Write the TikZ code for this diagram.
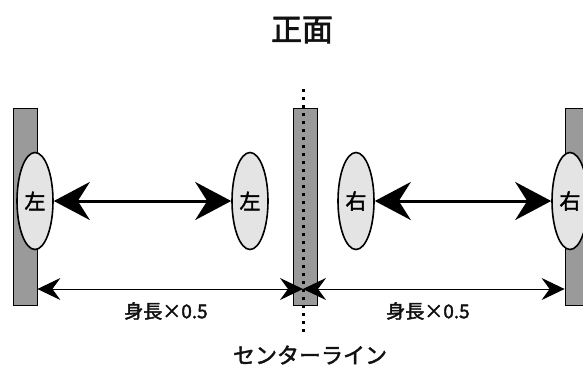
\documentclass[tikz,border=0pt]{standalone}
\usepackage{fontspec}
\newfontfamily\jpfont[BoldFont={Noto Sans CJK JP},BoldFeatures={FakeBold=2}]{Noto Sans CJK JP}
\usetikzlibrary{shapes.geometric,arrows.meta,positioning}
\definecolor{wallgray}{HTML}{9A9A9A}
\definecolor{footgray}{HTML}{E4E4E4}
\definecolor{darktext}{HTML}{111111}

\tikzset{
  wall/.style={draw=black, fill=wallgray, line width=0.8pt, minimum width=24pt, minimum height=197pt, inner sep=0pt},
  foot/.style={ellipse, draw=black, fill=footgray, line width=1.6pt, minimum width=36pt, minimum height=97pt, inner sep=0pt, font=\jpfont\bfseries\fontsize{21}{21}\selectfont},
  stride/.style={line width=3pt, {Stealth[length=36pt,width=38pt,inset=12pt]}-{Stealth[length=36pt,width=38pt,inset=12pt]}},
  measure/.style={line width=1pt, {Stealth[length=23pt,width=22pt,inset=8pt]}-{Stealth[length=23pt,width=22pt,inset=8pt]}},
  label/.style={font=\jpfont\bfseries\fontsize{19}{19}\selectfont, text=darktext}
}

\begin{document}
\begin{tikzpicture}[x=1pt,y=-1pt]
\useasboundingbox (0,0) rectangle (583,368);
\begin{scope}
\clip (0,0) rectangle (583,368);

% title
\node[font=\jpfont\bfseries\fontsize{31}{31}\selectfont, text=darktext] (title) at (302,30) {正面};

% walls
\node[wall] (wallL) at (25,207) {};
\node[wall] (wallC) at (305,207) {};
\node[wall] (wallR) at (577,207) {};

% centre line
\coordinate (ctop) at (303,89);
\coordinate (cbot) at (303,334);
\draw[line width=3pt, dash pattern=on 3pt off 5pt] (ctop) -- (cbot);

% left feet
\node[foot] (leftA) at (35,201) {左};
\node[foot] (leftB) at (250,201) {左};
\draw[stride] (leftA) -- (leftB);

% right feet
\node[foot] (rightA) at (356,201) {右};
\node[foot] (rightB) at (570,201) {右};
\draw[stride] (rightA) -- (rightB);

% measures
\coordinate (midM) at (303,289);
\draw[measure] (wallL.east |- midM) -- (midM);
\draw[measure] (midM) -- (wallR.west |- midM);
\node[label] (halfL) at (166,311) {身長×0.5};
\node[label] (halfR) at (428,311) {身長×0.5};

% caption
\node[font=\jpfont\bfseries\fontsize{22}{22}\selectfont, text=darktext] (caption) at (310,355) {センターライン};
\end{scope}
\end{tikzpicture}
\end{document}
